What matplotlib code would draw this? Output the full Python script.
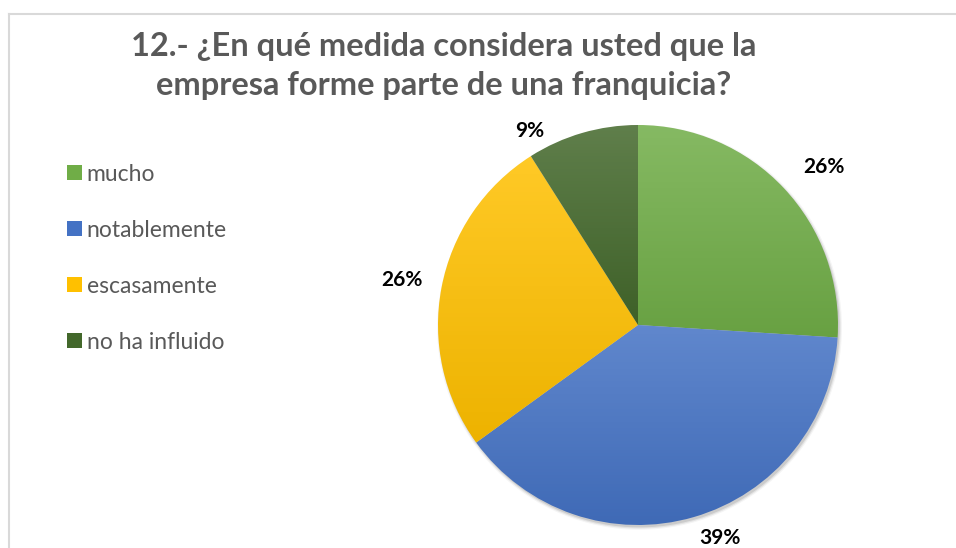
import matplotlib
matplotlib.use("Agg")
import matplotlib.pyplot as plt
import matplotlib.colors as mcolors
from matplotlib.lines import Line2D
from matplotlib.patches import Patch, Circle
import numpy as np

# donnees du graphique
categories = ["mucho", "notablemente", "escasamente", "no ha influido"]
valores = [26, 39, 26, 9]
colores = ["#70AD47", "#4472C4", "#FFC000", "#43682B"]
titulo = "12.- ¿En qué medida considera usted que la\nempresa forme parte de una franquicia?"
# placement des etiquettes (distance au centre, decalage angulaire en degres)
distancias = [1.22, 1.14, 1.2, 1.11]
decalages = [-2.7, 4.9, 0.0, 13.1]

plt.rcParams["font.family"] = ["Lato", "DejaVu Sans"]

fig = plt.figure(figsize=(9.56, 5.48), dpi=100)

# cadre gris
fig.add_artist(Line2D([9 / 956, 9 / 956], [0, 1 - 14 / 548], transform=fig.transFigure,
                      color="#d9d9d9", lw=1.5))
fig.add_artist(Line2D([9 / 956, 1], [1 - 14 / 548, 1 - 14 / 548], transform=fig.transFigure,
                      color="#d9d9d9", lw=1.5))

# axe du camembert : centre (638, 325), rayon 200 px
cx, cy, r = 638, 325, 200
ax = fig.add_axes([(cx - 1.05 * r) / 956, 1 - (cy + 1.05 * r) / 548, 2.1 * r / 956, 2.1 * r / 548])

wedges, textes, autotextes = ax.pie(
    valores, colors=colores, startangle=90, counterclock=False,
    autopct="%1.0f%%", pctdistance=1.18, radius=1.0,
    wedgeprops=dict(linewidth=0),
    textprops=dict(fontsize=15, fontweight="bold", color="black"))

# ombre legere sous le camembert
for k, a in enumerate([0.10, 0.07, 0.04]):
    ax.add_patch(Circle((0.008, -0.012), 1.0 + 0.006 * k, facecolor="black",
                        edgecolor="none", alpha=a, zorder=0))

# degrade vertical dans chaque part
for w, c, d, dec, t in zip(wedges, colores, distancias, decalages, autotextes):
    ext = w.get_path().get_extents()
    base = np.array(mcolors.to_rgb(c))
    haut = base + (1 - base) * 0.15
    bas = base * 0.93
    n = 64
    grad = np.linspace(0, 1, n)[:, None, None]
    img = haut[None, None, :] * (1 - grad) + bas[None, None, :] * grad
    im = ax.imshow(img, extent=[ext.x0, ext.x1, ext.y0, ext.y1], aspect="auto",
                   origin="upper", zorder=w.get_zorder())
    im.set_clip_path(w)
    w.set_facecolor("none")
    theta = np.deg2rad((w.theta1 + w.theta2) / 2 + dec)
    t.set_position((d * np.cos(theta), d * np.sin(theta)))

ax.set_xlim(-1.05, 1.05)
ax.set_ylim(-1.05, 1.05)
ax.set_aspect("equal")
ax.axis("off")

# titre
fig.text(444 / 956, 1 - 66 / 548, titulo, ha="center", va="center", fontsize=23.5,
         fontweight="bold", color="#595959", linespacing=1.42)

# legende
poignees = [Patch(facecolor=c, edgecolor="none") for c in colores]
leg = fig.legend(poignees, categories, loc="upper left",
                 bbox_to_anchor=(46 / 956, 1 - 143 / 548), frameon=False,
                 fontsize=16.5, labelspacing=1.53, handlelength=0.65, handleheight=0.65,
                 handletextpad=0.22, labelcolor="#595959")

fig.savefig("out.png", dpi=100)
